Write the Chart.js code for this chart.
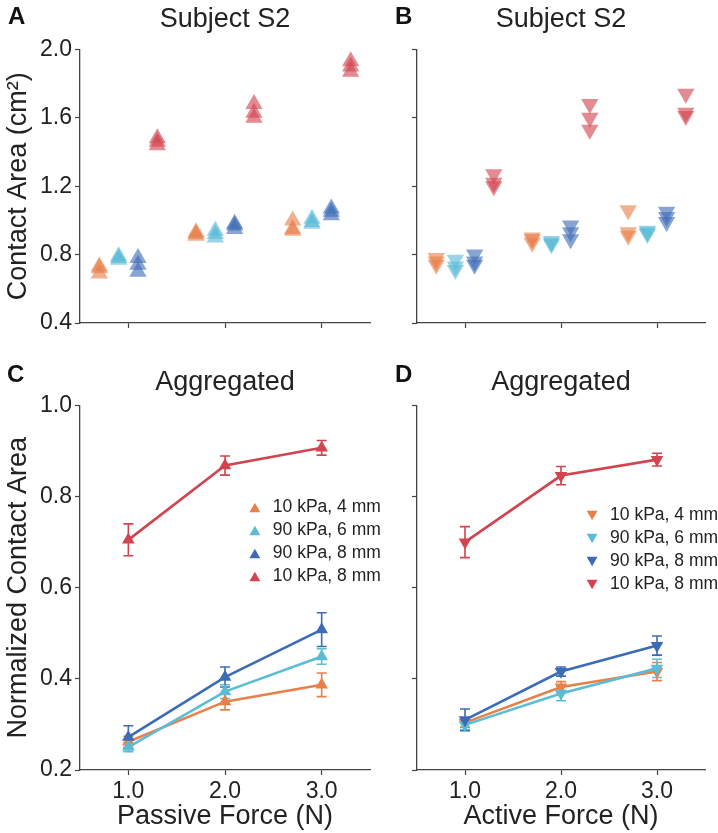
<!DOCTYPE html>
<html>
<head>
<meta charset="utf-8">
<script src="https://cdn.jsdelivr.net/npm/chart.js@4.4.1/dist/chart.umd.min.js"></script>
<style>
  body { margin: 0; background: #fff; }
  #fig { position: relative; width: 718px; height: 833px; }
  .panel { position: absolute; }
  .letter { position: absolute; font: bold 24px "Liberation Sans", Arial, sans-serif; line-height: 24px; color: #111; }
</style>
</head>
<body>
<div id="fig">
  <div class="panel" style="left:0;top:0;width:380px;height:345px"><canvas id="chartA"></canvas></div>
  <div class="panel" style="left:360px;top:0;width:358px;height:345px"><canvas id="chartB"></canvas></div>
  <div class="panel" style="left:0;top:360px;width:380px;height:473px"><canvas id="chartC"></canvas></div>
  <div class="panel" style="left:360px;top:360px;width:358px;height:473px"><canvas id="chartD"></canvas></div>
  <div class="letter" style="left:8px;top:4px">A</div>
  <div class="letter" style="left:395px;top:4px">B</div>
  <div class="letter" style="left:7px;top:362px">C</div>
  <div class="letter" style="left:395px;top:362px">D</div>
</div>
<script>
// ---- data ----
const forces = [1, 2, 3];
const xTicks = [1, 2, 3];
const seriesNames = ['10 kPa, 4 mm', '90 kPa, 6 mm', '90 kPa, 8 mm', '10 kPa, 8 mm'];
const colors = ['#E8804A', '#5BBCD6', '#3D6CB6', '#D2444F'];
const dodge = [-0.3, -0.1, 0.1, 0.3];   // horizontal offset of each probe in the subject panels

const yTicksS2 = [0.4, 0.8, 1.2, 1.6, 2.0];
const yTicksAgg = [0.2, 0.4, 0.6, 0.8, 1.0];

// subject S2, contact area (cm2), 3 trials per force level
const s2Passive_10k4 = [[0.69, 0.72, 0.73], [0.91, 0.92, 0.93], [0.94, 0.95, 1.00]];
const s2Passive_90k6 = [[0.77, 0.78, 0.79], [0.90, 0.92, 0.94], [0.98, 0.99, 1.01]];
const s2Passive_90k8 = [[0.70, 0.74, 0.78], [0.95, 0.97, 0.98], [1.03, 1.05, 1.07]];
const s2Passive_10k8 = [[1.44, 1.46, 1.48], [1.60, 1.63, 1.68], [1.87, 1.90, 1.93]];

const s2Active_10k4 = [[0.74, 0.76, 0.78], [0.87, 0.89, 0.90], [0.91, 0.93, 1.06]];
const s2Active_90k6 = [[0.71, 0.73, 0.77], [0.86, 0.87, 0.88], [0.92, 0.93, 0.94]];
const s2Active_90k8 = [[0.74, 0.76, 0.80], [0.89, 0.93, 0.97], [0.99, 1.02, 1.05]];
const s2Active_10k8 = [[1.20, 1.22, 1.27], [1.53, 1.60, 1.68], [1.61, 1.63, 1.74]];

// aggregated normalized contact area, mean and error
const aggPassive_10k4 = [0.262, 0.350, 0.387];
const aggPassive_90k6 = [0.250, 0.372, 0.449];
const aggPassive_90k8 = [0.272, 0.404, 0.508];
const aggPassive_10k8 = [0.705, 0.868, 0.907];
const errPassive_10k4 = [0.012, 0.018, 0.026];
const errPassive_90k6 = [0.010, 0.015, 0.017];
const errPassive_90k8 = [0.025, 0.022, 0.037];
const errPassive_10k8 = [0.035, 0.021, 0.016];

const aggActive_10k4 = [0.304, 0.382, 0.416];
const aggActive_90k6 = [0.299, 0.368, 0.423];
const aggActive_90k8 = [0.310, 0.416, 0.473];
const aggActive_10k8 = [0.700, 0.846, 0.881];
const errActive_10k4 = [0.010, 0.012, 0.020];
const errActive_90k6 = [0.010, 0.016, 0.020];
const errActive_90k8 = [0.024, 0.010, 0.021];
const errActive_10k8 = [0.034, 0.020, 0.014];

// ---- helpers ----
Chart.defaults.font.family = '"Liberation Sans", Arial, sans-serif';
Chart.defaults.color = '#222';

function alpha(hex, a) {
  const n = parseInt(hex.slice(1), 16);
  return 'rgba(' + (n >> 16) + ',' + ((n >> 8) & 255) + ',' + (n & 255) + ',' + a + ')';
}

const errorBars = {
  id: 'errorBars',
  beforeDatasetsDraw(chart) {
    const ctx = chart.ctx, x = chart.scales.x, y = chart.scales.y;
    chart.data.datasets.forEach(ds => {
      if (!ds.errs) return;
      ctx.save();
      ctx.strokeStyle = ds.borderColor;
      ctx.lineWidth = 1.6;
      ds.data.forEach((p, i) => {
        const px = x.getPixelForValue(p.x);
        const top = y.getPixelForValue(p.y + ds.errs[i]);
        const bot = y.getPixelForValue(p.y - ds.errs[i]);
        ctx.beginPath();
        ctx.moveTo(px, top); ctx.lineTo(px, bot);
        ctx.moveTo(px - 5, top); ctx.lineTo(px + 5, top);
        ctx.moveTo(px - 5, bot); ctx.lineTo(px + 5, bot);
        ctx.stroke();
      });
      ctx.restore();
    });
  }
};

const floatLegend = {
  id: 'floatLegend',
  afterDraw(chart, args, opts) {
    if (!opts.show) return;
    const ctx = chart.ctx, a = chart.chartArea;
    const x0 = a.left + opts.fx * (a.right - a.left);
    const y0 = a.top + opts.fy * (a.bottom - a.top);
    ctx.save();
    seriesNames.forEach((name, i) => {
      const yy = y0 + i * 23;
      ctx.fillStyle = colors[i];
      Chart.helpers.drawPoint(ctx, { pointStyle: 'triangle', rotation: opts.rotation, radius: 6.3, borderWidth: 0 }, x0, yy + (opts.rotation ? -1.5 : 1.5));
      ctx.fillStyle = '#222';
      ctx.font = '17.5px "Liberation Sans", Arial, sans-serif';
      ctx.textBaseline = 'middle';
      ctx.fillText(name, x0 + 18, yy);
    });
    ctx.restore();
  }
};

function xScale(showLabels, title, height) {
  return {
    type: 'linear', min: 0.5, max: 3.5,
    afterBuildTicks: s => { s.ticks = xTicks.map(v => ({ value: v })); },
    ticks: { padding: 3, color: '#222', font: { size: 23 }, maxRotation: 0, autoSkip: false,
             callback: v => showLabels ? v.toFixed(1) : '' },
    grid: { drawOnChartArea: false, drawTicks: true, tickLength: 5, tickColor: '#444', tickWidth: 1.2 },
    border: { color: '#444', width: 1.3 },
    title: { display: !!title, text: title, color: '#222', font: { size: 27 }, padding: { top: 0, bottom: 0 } },
    afterFit: s => { s.height = height; }
  };
}

function yScale(tickList, showLabels, title, width) {
  return {
    min: tickList[0], max: tickList[tickList.length - 1],
    afterBuildTicks: s => { s.ticks = tickList.map(v => ({ value: v })); },
    ticks: { padding: 3, color: '#222', font: { size: 23 }, callback: v => showLabels ? v.toFixed(1) : '' },
    grid: { drawOnChartArea: false, drawTicks: true, tickLength: 5, tickColor: '#444', tickWidth: 1.2 },
    border: { color: '#444', width: 1.3 },
    title: { display: !!title, text: title, color: '#222', font: { size: 27 }, padding: { top: 2, bottom: 0 } },
    afterFit: s => { s.width = width; }
  };
}

function subjectChart(id, groups, rotation, showY, yTitle, yWidth, padRight) {
  const datasets = groups.map((g, s) => ({
    label: seriesNames[s],
    data: g.flatMap((trials, f) => trials.map(v => ({ x: forces[f] + dodge[s], y: v }))),
    backgroundColor: alpha(colors[s], 0.62),
    borderWidth: 0,
    pointStyle: 'triangle',
    pointRotation: rotation,
    pointRadius: 10,
    order: 3 - s
  }));
  new Chart(document.getElementById(id), {
    type: 'scatter',
    data: { datasets },
    options: {
      responsive: true, maintainAspectRatio: false, animation: false, devicePixelRatio: 1,
      layout: { padding: { right: padRight, top: 0, bottom: 0, left: 0 } },
      plugins: {
        legend: { display: false }, tooltip: { enabled: false },
        title: { display: true, text: 'Subject S2', fullSize: false, color: '#222', font: { size: 27, weight: 'normal' }, padding: { top: 3, bottom: 14 } }
      },
      scales: { x: xScale(false, '', 22), y: yScale(yTicksS2, showY, yTitle, yWidth) }
    }
  });
}

function aggChart(id, means, errs, rotation, showY, yTitle, yWidth, padRight, xTitle, legendPos) {
  const datasets = means.map((m, s) => ({
    label: seriesNames[s],
    data: m.map((v, f) => ({ x: forces[f], y: v })),
    errs: errs[s],
    borderColor: colors[s],
    backgroundColor: colors[s],
    borderWidth: 2.6,
    pointStyle: 'triangle',
    pointRotation: rotation,
    pointRadius: 7.3,
    pointBorderWidth: 0,
    tension: 0,
    order: 3 - s
  }));
  new Chart(document.getElementById(id), {
    type: 'line',
    data: { datasets },
    plugins: [errorBars, floatLegend],
    options: {
      responsive: true, maintainAspectRatio: false, animation: false, devicePixelRatio: 1,
      layout: { padding: { right: padRight, top: 0, bottom: 0, left: 0 } },
      plugins: {
        legend: { display: false }, tooltip: { enabled: false },
        title: { display: true, text: 'Aggregated', fullSize: false, color: '#222', font: { size: 27, weight: 'normal' }, padding: { top: 6, bottom: 7 } },
        floatLegend: { show: true, fx: legendPos[0], fy: legendPos[1], rotation: rotation }
      },
      scales: { x: xScale(true, xTitle, 63), y: yScale(yTicksAgg, showY, yTitle, yWidth) }
    }
  });
}

subjectChart('chartA', [s2Passive_10k4, s2Passive_90k6, s2Passive_90k8, s2Passive_10k8], 0, true, 'Contact Area (cm\u00B2)', 80, 10);
subjectChart('chartB', [s2Active_10k4, s2Active_90k6, s2Active_90k8, s2Active_10k8], 180, false, '', 57, 13);
aggChart('chartC', [aggPassive_10k4, aggPassive_90k6, aggPassive_90k8, aggPassive_10k8],
         [errPassive_10k4, errPassive_90k6, errPassive_90k8, errPassive_10k8], 0, true, 'Normalized Contact Area', 80, 10, 'Passive Force (N)', [0.603, 0.28]);
aggChart('chartD', [aggActive_10k4, aggActive_90k6, aggActive_90k8, aggActive_10k8],
         [errActive_10k4, errActive_90k6, errActive_90k8, errActive_10k8], 180, false, '', 57, 13, 'Active Force (N)', [0.608, 0.302]);
</script>
</body>
</html>
